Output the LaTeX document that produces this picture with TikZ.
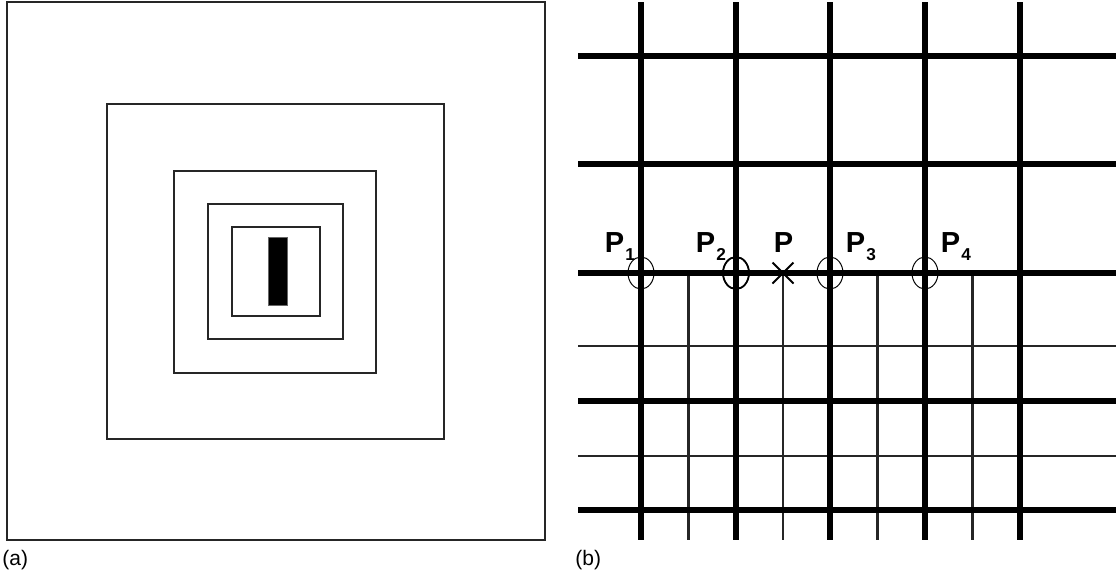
\documentclass[tikz,border=0pt]{standalone}
\usepackage{fontspec}
\setmainfont{Liberation Sans}
\usetikzlibrary{positioning,shapes.geometric,shapes.misc}
\newcommand\psub[1]{\hspace{.6pt}\raisebox{-4pt}{\fontsize{8.6}{8.6}\selectfont#1}}

\begin{document}
\begin{tikzpicture}[x=.5pt,y=-.5pt,
  sq/.style={draw=black!85,line width=1.35pt},
  heavy/.style={line width=2.8pt},
  light/.style={draw=black!85,line width=1.3pt},
  ring/.style={draw,ellipse,line width=.5pt,minimum width=13pt,minimum height=16pt,inner sep=0pt},
  lab/.style={font=\bfseries\fontsize{14.5}{14.5}\selectfont,anchor=base west,inner sep=0pt},
  tag/.style={font=\fontsize{10.5}{10.5}\selectfont,anchor=west,inner sep=0pt}]
\useasboundingbox (0,0) rectangle (1116,575);
% (a) nested squares
\foreach \a/\b/\c/\d in {7/2/545/540,107/104/444/439,174/171/376/373,208/204/343/339,232/227/320/316}
  \draw[sq] (\a,\b) rectangle (\c,\d);
\filldraw[fill=black,draw=black!60,line width=.5pt] (268,237) rectangle (287,305);
\node[tag] (taga) at (2,560) {(a)};
% (b) grid
\foreach \y in {346,456} \draw[light] (578,\y)--(1116,\y);
\foreach \x in {688.5,783,877.5,972.5} \draw[light] (\x,273)--(\x,540);
\foreach \y in {56,164,273,401,510} \draw[heavy] (578,\y)--(1116,\y);
\foreach \x in {641,736,830,925,1020} \draw[heavy] (\x,2)--(\x,540);
\foreach \n/\x in {1/641,2/736,3/830,4/925} \node[ring] (c\n) at (\x,273) {};
\draw[line width=.9pt] (c2.center) ellipse [x radius=13,y radius=16];
\node[cross out,draw,line width=1pt,minimum size=9.5pt,inner sep=0pt] (p) at (783,273) {};
\node[lab] (l1) at (604.5,252.5) {P\psub{1}};
\node[lab] (l2) at (695.5,252.5) {P\psub{2}};
\node[lab] (l0) at (773.5,252.5) {P};
\node[lab] (l3) at (845.5,252.5) {P\psub{3}};
\node[lab] (l4) at (940.5,252.5) {P\psub{4}};
\node[tag] (tagb) at (575,560) {(b)};
\end{tikzpicture}
\end{document}
